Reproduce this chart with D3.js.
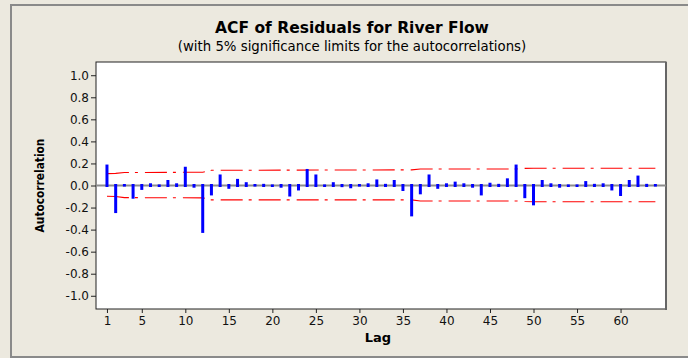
<!DOCTYPE html>
<html>
<head>
<meta charset="utf-8">
<script src="https://cdn.jsdelivr.net/npm/d3@7"></script>
<style>
  html, body { margin: 0; padding: 0; background: #ECE9DF; }
  svg { display: block; }
</style>
</head>
<body>
<svg id="chart" width="688" height="358"></svg>
<script>
// autocorrelation of residuals, lags 1..64
const acf = [
  0.19, -0.25, -0.01, -0.12, -0.04, 0.02, 0.01, 0.05, 0.02, 0.17,
  -0.02, -0.43, -0.09, 0.10, -0.03, 0.06, 0.03, -0.01, 0.015, 0.01,
  -0.02, -0.10, -0.045, 0.15, 0.10, 0.01, 0.03, -0.015, -0.025, -0.01,
  0.02, 0.055, 0.015, 0.05, -0.05, -0.28, -0.08, 0.10, -0.03, 0.02,
  0.035, 0.02, -0.02, -0.09, 0.025, 0.015, 0.065, 0.19, -0.115, -0.18,
  0.05, 0.02, -0.02, 0.01, 0.01, 0.04, 0.015, 0.02, -0.045, -0.095,
  0.05, 0.09, 0.015, -0.01
];

// 5% significance limits, [lag, value] where the limit changes
const upperLimit = [[1, 0.108], [2, 0.11], [3, 0.118], [12, 0.12], [13, 0.138], [36, 0.142],
  [37, 0.15], [48, 0.15], [49, 0.155], [50, 0.157], [64, 0.157]];
const lowerLimit = [[1, -0.098], [2, -0.10], [3, -0.11], [12, -0.112], [13, -0.13], [36, -0.13],
  [37, -0.14], [48, -0.14], [49, -0.145], [50, -0.148], [64, -0.148]];

const xTicks = [1, 5, 10, 15, 20, 25, 30, 35, 40, 45, 50, 55, 60];
const yTicks = [-1.0, -0.8, -0.6, -0.4, -0.2, 0.0, 0.2, 0.4, 0.6, 0.8, 1.0];

const svg = d3.select('#chart');
const font = "'DejaVu Sans', Verdana, sans-serif";

// outer frame
svg.append('rect')
    .attr('x', 11).attr('y', 5)
    .attr('width', 690).attr('height', 352)
    .attr('fill', '#ECE9DF')
    .attr('stroke', '#8a8a8a')
    .attr('stroke-width', 2);

const plotL = 96, plotR = 666, plotT = 62, plotB = 309;

const x = d3.scaleLinear().domain([-0.26, 65.22]).range([plotL, plotR]);
const y = d3.scaleLinear().domain([-1.12, 1.12]).range([plotB, plotT]);

svg.append('rect')
    .attr('x', plotL).attr('y', plotT)
    .attr('width', plotR - plotL).attr('height', plotB - plotT)
    .attr('fill', 'white')
    .attr('stroke', '#222')
    .attr('stroke-width', 1);
// darker shadow edge on the right
svg.append('line')
    .attr('x1', plotR).attr('x2', plotR)
    .attr('y1', plotT).attr('y2', plotB + 1)
    .attr('stroke', '#666').attr('stroke-width', 2);

// axes
const yAxis = svg.append('g')
    .attr('transform', `translate(${plotL},0)`)
    .call(d3.axisLeft(y).tickValues(yTicks).tickSize(5).tickPadding(2)
      .tickFormat(d => d.toFixed(1)));
const xAxis = svg.append('g')
    .attr('transform', `translate(0,${plotB})`)
    .call(d3.axisBottom(x).tickValues(xTicks).tickSize(4).tickPadding(3));

[yAxis, xAxis].forEach(g => {
  g.select('.domain').remove();
  g.selectAll('line').attr('stroke', '#222');
  g.selectAll('text')
      .style('font-family', font)
      .style('font-size', '12px')
      .attr('fill', '#111');
});

// zero reference line
svg.append('line')
    .attr('x1', plotL).attr('x2', plotR)
    .attr('y1', y(0)).attr('y2', y(0))
    .attr('stroke', '#8c8c8c')
    .attr('stroke-width', 2);

// significance limits
const limitLine = d3.line().x(d => x(d[0])).y(d => y(d[1]));
svg.selectAll('path.limit')
    .data([upperLimit, lowerLimit])
    .enter().append('path')
    .attr('class', 'limit')
    .attr('d', limitLine)
    .attr('fill', 'none')
    .attr('stroke', '#ff0000')
    .attr('stroke-width', 1.1)
    .attr('stroke-dasharray', '22,6,3,7');

// acf bars (start slightly past the zero line so tiny values still show)
svg.selectAll('line.bar')
    .data(acf)
    .enter().append('line')
    .attr('class', 'bar')
    .attr('x1', (d, i) => x(i + 1)).attr('x2', (d, i) => x(i + 1))
    .attr('y1', d => y(0) + (d >= 0 ? 1.5 : -1.5))
    .attr('y2', d => y(d))
    .attr('stroke', '#0000ff')
    .attr('stroke-width', 3);

// titles
svg.append('text')
    .attr('x', 352).attr('y', 33)
    .attr('text-anchor', 'middle')
    .style('font-family', font)
    .style('font-size', '15.5px')
    .style('font-weight', 'bold')
    .text('ACF of Residuals for River Flow');
svg.append('text')
    .attr('x', 352).attr('y', 51)
    .attr('text-anchor', 'middle')
    .style('font-family', font)
    .style('font-size', '13.3px')
    .text('(with 5% significance limits for the autocorrelations)');

svg.append('text')
    .attr('x', 378).attr('y', 342)
    .attr('text-anchor', 'middle')
    .style('font-family', font)
    .style('font-size', '13px')
    .style('font-weight', 'bold')
    .text('Lag');

svg.append('text')
    .attr('transform', `translate(44,${(plotT + plotB) / 2}) rotate(-90)`)
    .attr('text-anchor', 'middle')
    .style('font-family', "'DejaVu Sans Condensed', 'DejaVu Sans', sans-serif")
    .style('font-size', '11.8px')
    .style('font-weight', 'bold')
    .text('Autocorrelation');
</script>
</body>
</html>
